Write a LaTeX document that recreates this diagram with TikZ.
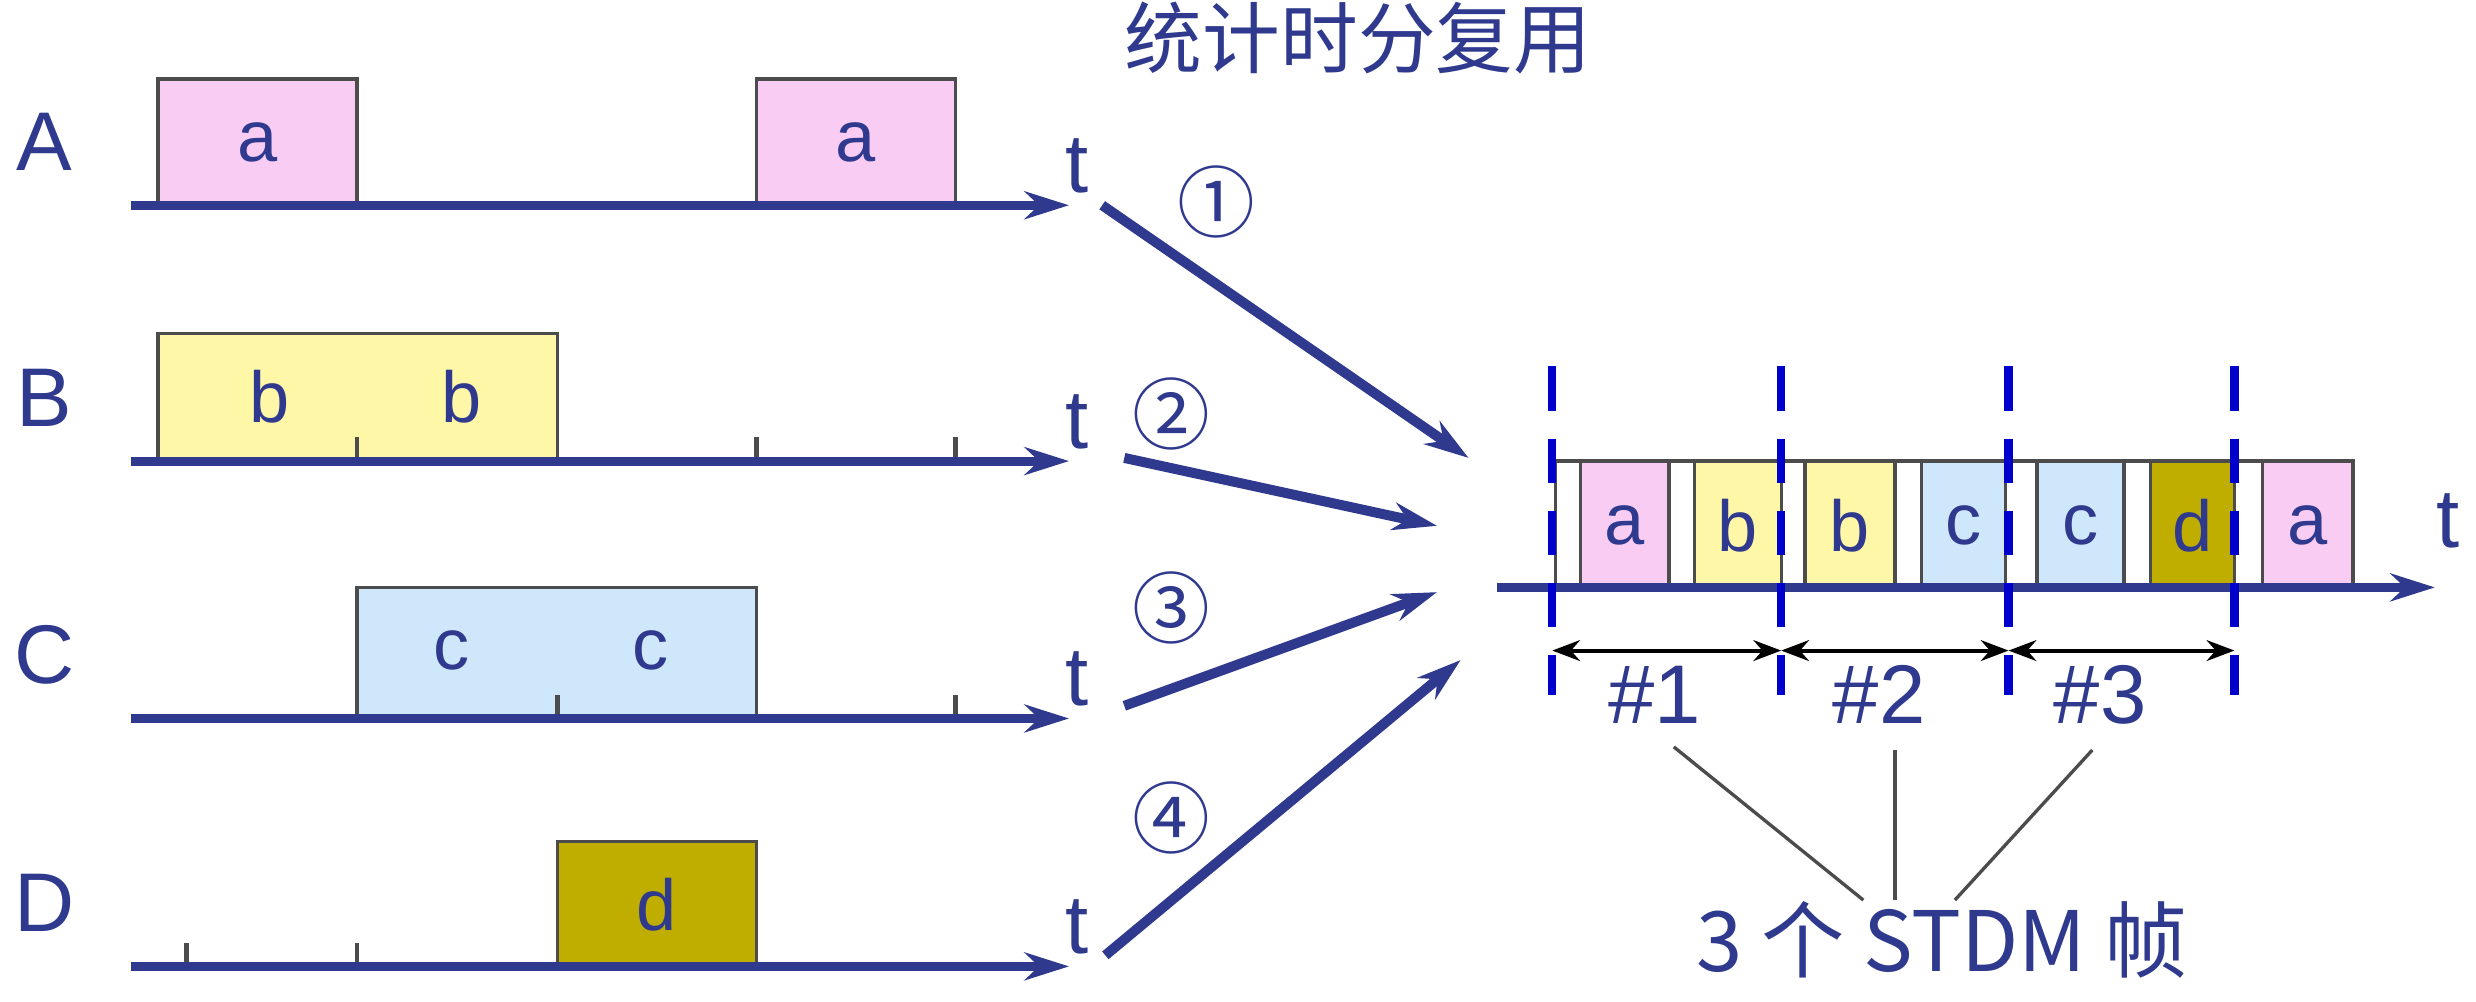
\documentclass[tikz,border=0pt]{standalone}
\usepackage{fontspec}
\setmainfont{Liberation Sans}
\newfontfamily\cjk{Noto Sans CJK SC}
\usetikzlibrary{arrows.meta}
\definecolor{ink}{HTML}{2F3A8F}
\definecolor{pk}{HTML}{F9CDF3}
\definecolor{yl}{HTML}{FFF7A8}
\definecolor{bl}{HTML}{CFE7FA}
\definecolor{ol}{HTML}{BFAE00}
\begin{document}
\begin{tikzpicture}[x=0.01cm,y=-0.01cm,
  axis/.style={ink,line width=1.6pt,-{Stealth[length=8pt,width=5pt]}},
  slot/.style={draw=black!70,line width=0.6pt},
  lbl/.style={text=ink,font=\fontsize{13}{13}\selectfont},
  big/.style={text=ink,font=\fontsize{15}{15}\selectfont},
  tk/.style={black!70,line width=0.8pt},
  mux/.style={ink,line width=1.8pt,-{Stealth[length=8pt,width=5pt]}},
  dsh/.style={blue!80!black,line width=1.5pt,dash pattern=on 8pt off 5pt},
  dim/.style={black,line width=0.7pt,{Stealth[length=5pt]}-{Stealth[length=5pt]}},
  circ/.style={text=ink,font=\cjk\fontsize{14}{14}\selectfont}]
\useasboundingbox (0,0) rectangle (1568,634);
\fill[white] (0,0) rectangle (1568,634);
\node[lbl,font=\cjk\fontsize{14}{14}\selectfont] (title) at (860,24) {统计时分复用};
\foreach \n/\y in {A/130,B/292,C/455,D/612}{
  \node[big] (L\n) at (28,{\y-40}) {\n};
  \coordinate (s\n) at (83,\y); \coordinate (e\n) at (677,\y);
  \node[big] (t\n) at (682,{\y-25}) {t};
}
\draw[slot,fill=pk] (100,50) rectangle (226,130); \node[lbl] (a1) at (163,90) {a};
\draw[slot,fill=pk] (479,50) rectangle (605,130); \node[lbl] (a2) at (542,90) {a};
\draw[slot,fill=yl] (100,211) rectangle (353,292);
\node[lbl] (b1) at (171,251) {b}; \node[lbl] (b2) at (292,251) {b};
\draw[tk] (226,292)--(226,277);
\draw[slot,fill=bl] (226,372) rectangle (479,455);
\node[lbl] (c1) at (286,412) {c}; \node[lbl] (c2) at (412,412) {c};
\draw[tk] (353,455)--(353,440);
\draw[slot,fill=ol] (353,533) rectangle (479,612); \node[lbl] (d1) at (416,573) {d};
\draw[tk] (479,292)--(479,277); \draw[tk] (605,292)--(605,277);
\draw[tk] (605,455)--(605,440);
\draw[tk] (118,612)--(118,597); \draw[tk] (226,612)--(226,597);
\foreach \n in {A,B,C,D} \draw[axis] (s\n)--(e\n);
\coordinate (m1s) at (698,130); \coordinate (m1e) at (930,290);
\coordinate (m2s) at (712,290); \coordinate (m2e) at (910,333);
\coordinate (m3s) at (712,447); \coordinate (m3e) at (910,375);
\coordinate (m4s) at (700,605); \coordinate (m4e) at (925,418);
\foreach \i in {1,2,3,4} \draw[mux] (m\i s)--(m\i e);
\node[circ] (n1) at (770,128) {①};
\node[circ] (n2) at (742,262) {②};
\node[circ] (n3) at (742,385) {③};
\node[circ] (n4) at (742,518) {④};
\draw[slot,fill=white] (985,292) rectangle (1490,372);
\foreach \x/\w/\c/\t in {1001/1057/pk/a,1073/1128/yl/b,1143/1200/yl/b,1217/1270/bl/c,1290/1345/bl/c,1362/1415/ol/d,1433/1490/pk/a}{
  \draw[slot,fill=\c] (\x,292) rectangle (\w,372);
  \node[lbl] at ({(\x+\w)/2},333) {\t};
}
\coordinate (rs) at (948,372); \coordinate (re) at (1542,372);
\draw[axis] (rs)--(re);
\node[big] (tr) at (1550,330) {t};
\foreach \x in {983,1128,1272,1415} \draw[dsh] (\x,232)--(\x,440);
\draw[dim] (983,412)--(1128,412);
\draw[dim] (1128,412)--(1272,412);
\draw[dim] (1272,412)--(1415,412);
\node[big] (f1) at (1048,440) {\#1};
\node[big] (f2) at (1190,440) {\#2};
\node[big] (f3) at (1330,440) {\#3};
\node[big,font=\cjk\fontsize{15}{15}\selectfont] (stdm) at (1230,595) {3 个 STDM 帧};
\draw[black!70,line width=0.6pt] (1060,473)--(1180,570);
\draw[black!70,line width=0.6pt] (1200,475)--(1200,570);
\draw[black!70,line width=0.6pt] (1325,475)--(1238,570);
\end{tikzpicture}
\end{document}
